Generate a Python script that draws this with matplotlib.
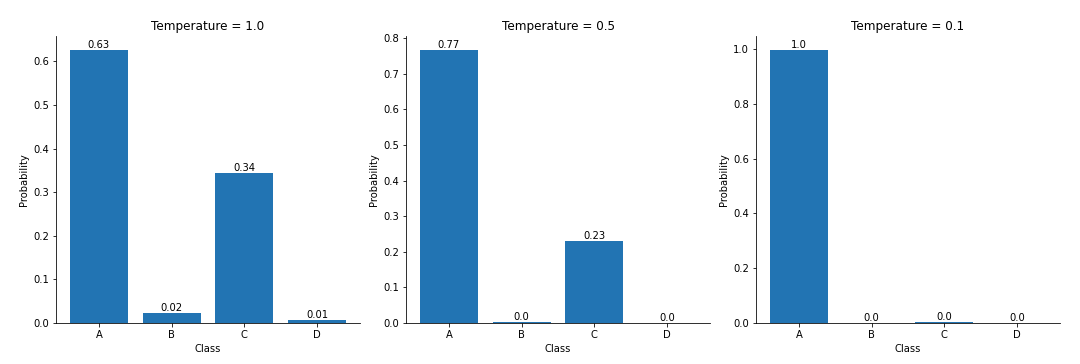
import matplotlib
matplotlib.use("Agg")
import matplotlib.pyplot as plt

classes = ["A", "B", "C", "D"]
temperatures = [1.0, 0.5, 0.1]
probs_t10 = [0.627, 0.023, 0.345, 0.006]
probs_t05 = [0.768, 0.002, 0.231, 0.0002]
probs_t01 = [0.998, 0.0, 0.002, 0.0]
all_probs = [probs_t10, probs_t05, probs_t01]

W, H, DPI = 1080, 364, 72
fig = plt.figure(figsize=(W / DPI, H / DPI), dpi=DPI)

lefts = [56, 406, 756]
aw = 304
top, bottom = 36, 323
for left, t, probs in zip(lefts, temperatures, all_probs):
    ax = fig.add_axes([left / W, 1 - bottom / H, aw / W, (bottom - top) / H])
    bars = ax.bar(classes, probs, color="#2274b3")
    for b, v in zip(bars, probs):
        ax.text(b.get_x() + b.get_width() / 2, b.get_height(), f"{round(v, 2)}",
                ha="center", va="bottom", fontsize=10)
    ax.set_title(f"Temperature = {t}", fontsize=12)
    ax.set_xlabel("Class", fontsize=10)
    ax.set_ylabel("Probability", fontsize=10)
    ax.spines["top"].set_visible(False)
    ax.spines["right"].set_visible(False)

fig.savefig("out.png", dpi=DPI)
